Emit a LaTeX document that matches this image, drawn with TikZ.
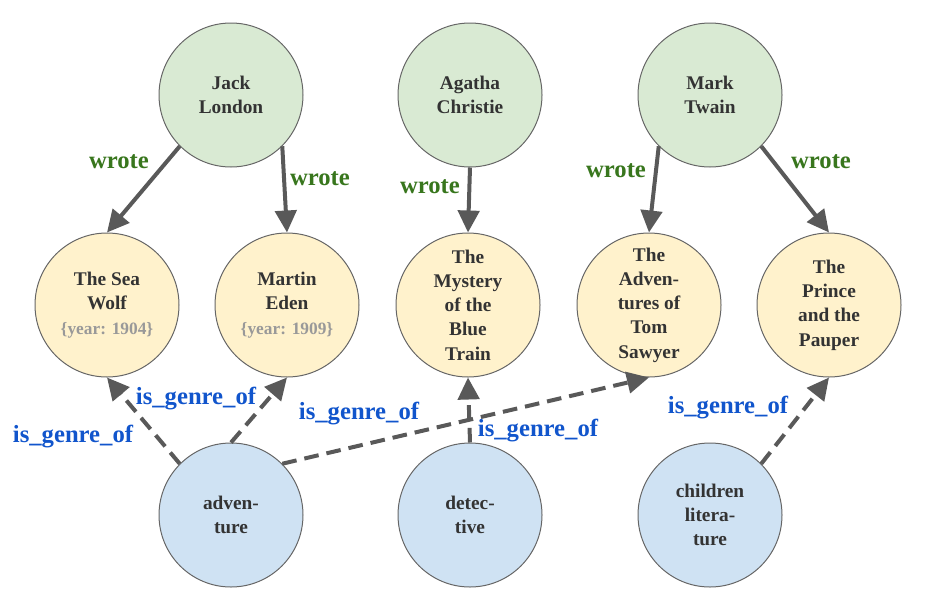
\documentclass[tikz,border=0pt]{standalone}
\usepackage{fontspec}
\setmainfont{Liberation Serif}
\usepackage{xcolor}
\usetikzlibrary{arrows.meta,positioning}
\definecolor{cAuthF}{HTML}{D9EAD3}
\definecolor{cBookF}{HTML}{FFF2CC}
\definecolor{cGenreF}{HTML}{CFE2F3}
\definecolor{cLine}{HTML}{666666}
\definecolor{cEdge}{HTML}{595959}
\definecolor{cText}{HTML}{333333}
\definecolor{cYear}{HTML}{999999}
\definecolor{cWrote}{HTML}{38761D}
\definecolor{cGenre}{HTML}{1155CC}
\tikzset{
  gnode/.style={circle,draw=cLine,line width=0.75pt,minimum size=108pt,inner sep=0pt,
      align=center,text=cText,font=\bfseries\fontsize{14.5}{18.2}\selectfont},
  gauthor/.style={gnode,fill=cAuthF},
  gbook/.style={gnode,fill=cBookF},
  ggenre/.style={gnode,fill=cGenreF},
  wroteedge/.style={-{Triangle[length=16.5pt,width=16pt]},line width=3pt,draw=cEdge},
  genreedge/.style={wroteedge,dash pattern=on 11pt off 6pt},
  elab/.style={font=\bfseries\fontsize{18.5}{20}\selectfont,inner sep=1pt},
  wlab/.style={elab,text=cWrote},
  glab/.style={elab,text=cGenre},
}
\newcommand{\yr}[1]{\\{\color{cYear}\fontsize{13}{18.2}\selectfont\{year: #1\}}}
\newcommand{\edgelab}[4]{\node[#1] (#2) at (#3) {#4};}

\begin{document}
\begin{tikzpicture}[x=0.75pt,y=-0.75pt]
  \useasboundingbox (0,0) rectangle (942,600);

  % authors
  \node[gauthor] (jl) at (231,95) {Jack\\London};
  \node[gauthor] (ac) at (470,95) {Agatha\\Christie};
  \node[gauthor] (mt) at (710,95) {Mark\\Twain};

  % books
  \node[gbook] (sw) at (107,305) {The Sea\\Wolf\yr{1904}};
  \node[gbook] (me) at (287,305) {Martin\\Eden\yr{1909}};
  \node[gbook] (my) at (468,305) {The\\Mystery\\of the\\Blue\\Train};
  \node[gbook] (ts) at (649,305) {The\\Adven-\\tures of\\Tom\\Sawyer};
  \node[gbook] (pp) at (829,305) {The\\Prince\\and the\\Pauper};

  % genres
  \node[ggenre] (adv) at (231,515) {adven-\\ture};
  \node[ggenre] (det) at (470,515) {detec-\\tive};
  \node[ggenre] (chl) at (710,515) {children\\litera-\\ture};

  \draw[wroteedge] (jl.225) -- (sw.north);
  \draw[wroteedge] (jl.-45) -- (me.north);
  \draw[wroteedge] (ac.south) -- (my.north);
  \draw[wroteedge] (mt.225) -- (ts.north);
  \draw[wroteedge] (mt.-45) -- (pp.north);

  \draw[genreedge] (adv.135) -- (sw.south);
  \draw[genreedge] (adv.north) -- (me.south);
  \draw[genreedge] (adv.45) -- (ts.south);
  \draw[genreedge] (det.north) -- (my.south);
  \draw[genreedge] (chl.45) -- (pp.south);

  \edgelab{wlab}{wA}{119,162}{wrote}
  \edgelab{wlab}{wB}{320,179}{wrote}
  \edgelab{wlab}{wC}{430,187}{wrote}
  \edgelab{wlab}{wD}{616,171}{wrote}
  \edgelab{wlab}{wE}{821,162}{wrote}

  \edgelab{glab}{gA}{73,437}{is\_genre\_of}
  \edgelab{glab}{gB}{196,399}{is\_genre\_of}
  \edgelab{glab}{gC}{359,414}{is\_genre\_of}
  \edgelab{glab}{gD}{538,431}{is\_genre\_of}
  \edgelab{glab}{gE}{728,408}{is\_genre\_of}
\end{tikzpicture}
\end{document}
